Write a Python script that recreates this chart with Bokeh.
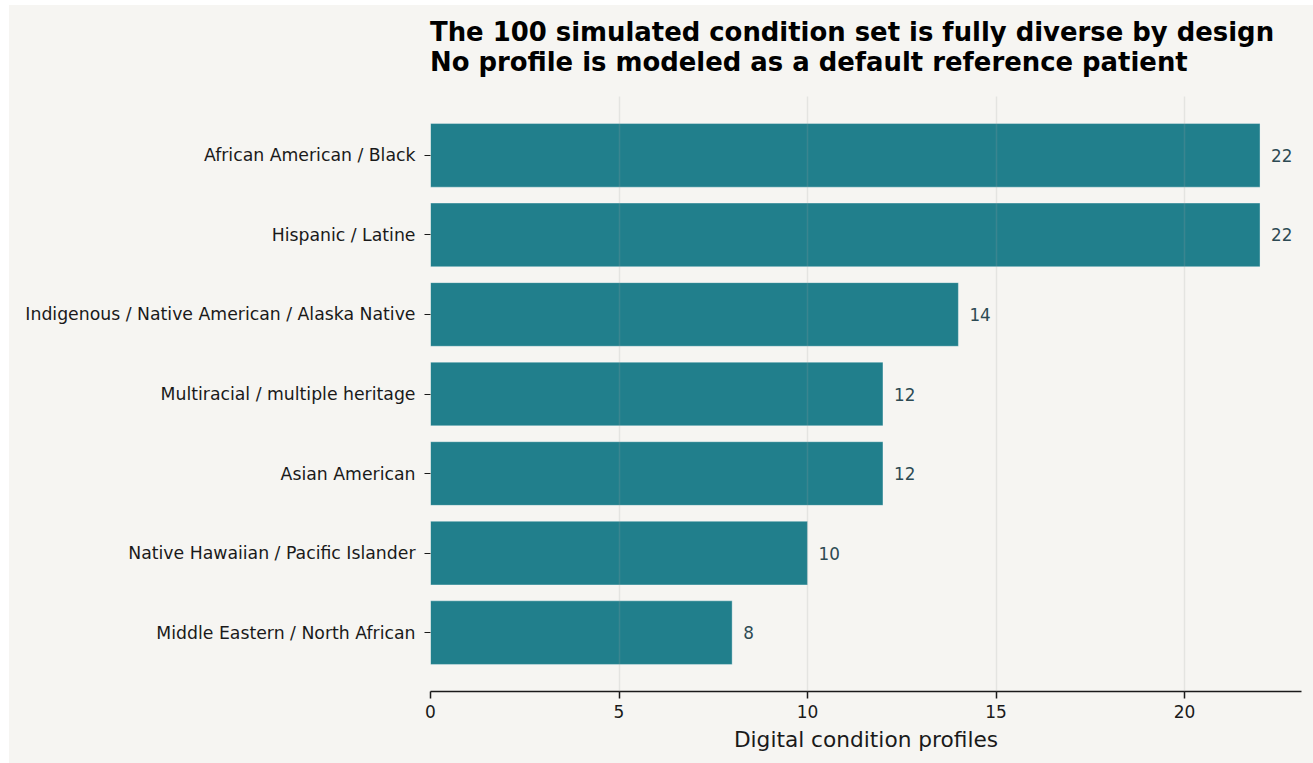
from bokeh.plotting import figure
from bokeh.models import ColumnDataSource, FactorRange, Spacer, Div
from bokeh.layouts import column, row
from bokeh.core.properties import value
from bokeh.embed import file_html
from bokeh.resources import INLINE

# Profiles per heritage group (top to bottom as listed)
groups = [
    "African American / Black",
    "Hispanic / Latine",
    "Indigenous / Native American / Alaska Native",
    "Multiracial / multiple heritage",
    "Asian American",
    "Native Hawaiian / Pacific Islander",
    "Middle Eastern / North African",
]
counts = [22, 22, 14, 12, 12, 10, 8]
x_ticks = [0, 5, 10, 15, 20]
title_lines = [
    "The 100 simulated condition set is fully diverse by design",
    "No profile is modeled as a default reference patient",
]

BG = "#f6f5f2"
BAR = "#217f8c"
FONT = "DejaVu Sans"
W = 1304
HEAD_H = 80

# bottom-to-top factor order so the first group sits at the top
factors = list(reversed(groups))
source = ColumnDataSource(dict(
    group=groups,
    count=counts,
    label=[str(c) for c in counts],
))

p = figure(
    width=W, height=758 - HEAD_H,
    y_range=FactorRange(factors=factors, range_padding=0.24,
                        range_padding_units="absolute"),
    x_range=(0, max(counts) * 1.05),
    output_backend="svg", toolbar_location=None,
    background_fill_color=BG, border_fill_color=BG,
    min_border_left=421, min_border_right=12,
    min_border_top=91 - HEAD_H, min_border_bottom=72,
)
p.title = None
p.outline_line_color = None

p.hbar(y="group", right="count", left=0, height=0.8, source=source,
       fill_color=BAR, line_color="white", line_alpha=0.35, line_width=1)

p.text(x="count", y="group", text="label", source=source,
       x_offset=11, text_align="left", text_baseline="middle",
       text_font=value(FONT), text_font_size="16.8px",
       text_color="#2d4a53")

# grid: vertical only, drawn over the bars
p.ygrid.grid_line_color = None
p.xgrid.grid_line_color = "#a0a0a0"
p.xgrid.grid_line_alpha = 0.2
p.xgrid.grid_line_width = 1.5
p.xgrid.level = "guide"

# x axis
xa = p.xaxis[0]
xa.ticker = x_ticks
xa.axis_label = "Digital condition profiles"
xa.axis_label_text_font = FONT
xa.axis_label_text_font_size = "21.7px"
xa.axis_label_text_font_style = "normal"
xa.axis_label_text_color = "#1a1a1a"
xa.axis_label_standoff = 6
xa.major_label_text_font = FONT
xa.major_label_text_font_size = "17px"
xa.major_label_text_color = "#1a1a1a"
xa.major_label_standoff = 6
xa.axis_line_color = "#1a1a1a"
xa.axis_line_width = 1.5
xa.major_tick_line_color = "#1a1a1a"
xa.major_tick_line_width = 1.5
xa.major_tick_out = 7
xa.major_tick_in = 0
xa.minor_tick_line_color = None

# y axis: ticks and labels, no spine
ya = p.yaxis[0]
ya.axis_line_color = None
ya.major_label_text_font = FONT
ya.major_label_text_font_size = "17.3px"
ya.major_label_text_color = "#1a1a1a"
ya.major_label_standoff = 9
ya.major_tick_line_color = "#1a1a1a"
ya.major_tick_line_width = 1.2
ya.major_tick_out = 6
ya.major_tick_in = 0

# two-line heading strip, left-aligned with the plot area
head = Div(
    text=("<div style=\"padding:12px 0 0 421px; font-family:'DejaVu Sans'; "
          "font-size:25.9px; font-weight:bold; line-height:30px; "
          "color:#000; white-space:nowrap;\">"
          + "<br>".join(title_lines) + "</div>"),
    width=W, height=HEAD_H,
    styles={"background-color": BG, "margin": "0", "padding": "0"},
)

panel = column(head, p, spacing=0, styles={"background-color": BG})
layout = column(Spacer(height=5), row(Spacer(width=9), panel))
open("out.html", "w").write(file_html(layout, INLINE))
